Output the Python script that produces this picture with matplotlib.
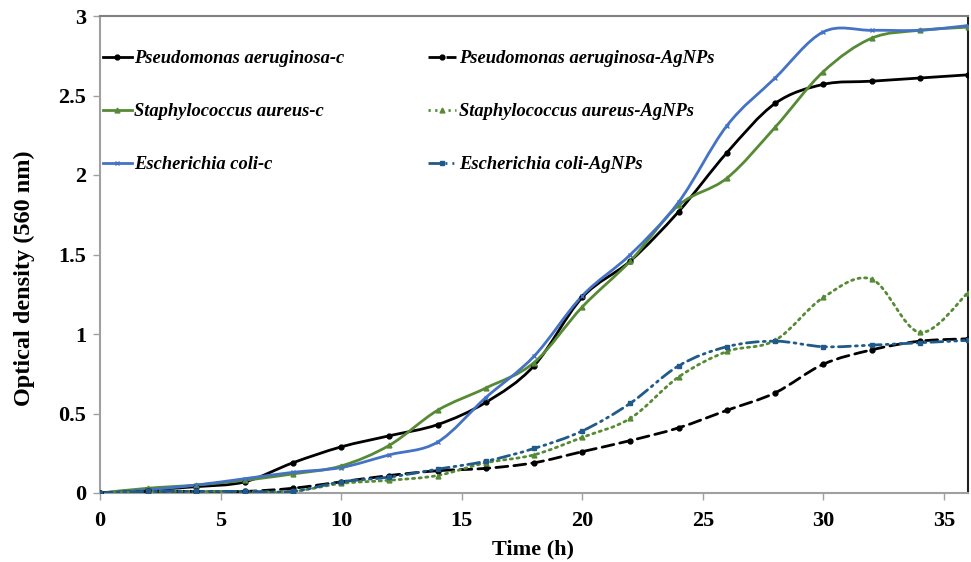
import numpy as np
import matplotlib
matplotlib.use("Agg")
import matplotlib.pyplot as plt
from matplotlib.path import Path
from matplotlib.patches import PathPatch
from matplotlib.lines import Line2D

time_h = [0, 2, 4, 6, 8, 10, 12, 14, 16, 18, 20, 22, 24, 26, 28, 30, 32, 34, 36]

pa_c = [0.0, 0.02, 0.04, 0.07, 0.19, 0.29, 0.36, 0.43, 0.57, 0.80, 1.23, 1.46, 1.77, 2.14, 2.45, 2.57, 2.59, 2.61, 2.63]
sa_c = [0.0, 0.03, 0.05, 0.08, 0.12, 0.17, 0.30, 0.52, 0.66, 0.82, 1.17, 1.46, 1.81, 1.98, 2.30, 2.65, 2.86, 2.91, 2.93]
ec_c = [0.0, 0.02, 0.05, 0.09, 0.13, 0.16, 0.24, 0.32, 0.60, 0.86, 1.24, 1.50, 1.83, 2.31, 2.61, 2.90, 2.91, 2.91, 2.94]
pa_ag = [0.0, 0.01, 0.01, 0.01, 0.03, 0.07, 0.11, 0.14, 0.155, 0.19, 0.26, 0.33, 0.41, 0.52, 0.63, 0.81, 0.90, 0.955, 0.97]
sa_ag = [0.0, 0.01, 0.01, 0.01, 0.01, 0.06, 0.08, 0.11, 0.19, 0.24, 0.35, 0.47, 0.73, 0.89, 0.96, 1.23, 1.345, 1.01, 1.26]
ec_ag = [0.0, 0.01, 0.01, 0.01, 0.01, 0.07, 0.10, 0.15, 0.20, 0.28, 0.39, 0.565, 0.80, 0.92, 0.955, 0.92, 0.93, 0.945, 0.96]

labels = ["Pseudomonas aeruginosa-c", "Staphylococcus aureus-c", "Escherichia coli-c",
          "Pseudomonas aeruginosa-AgNPs", "Staphylococcus aureus-AgNPs", "Escherichia coli-AgNPs"]

x_ticks = [0, 5, 10, 15, 20, 25, 30, 35]
y_ticks = [0, 0.5, 1, 1.5, 2, 2.5, 3]
y_tick_labels = ["0", "0.5", "1", "1.5", "2", "2.5", "3"]

GREEN = "#568a35"
BLUE = "#4472c4"
DBLUE = "#1f5a8a"

styles = [
    dict(color="black", ls="-", marker="o", ms=3.5),
    dict(color=GREEN, ls="-", marker="^", ms=3.5),
    dict(color=BLUE, ls="-", marker="x", ms=3.5),
    dict(color="black", ls=(0, (4.3, 2.2)), marker="o", ms=3.5),
    dict(color=GREEN, ls=(0, (0.8, 1.6)), marker="^", ms=3.5),
    dict(color=DBLUE, ls=(0, (4.3, 1.8, 0.7, 1.8, 0.7, 1.8)), marker="s", ms=3.5),
]
series = [pa_c, sa_c, ec_c, pa_ag, sa_ag, ec_ag]


def smooth_path(x, y):
    p = np.column_stack([x, y]).astype(float)
    n = len(p)
    verts = [p[0]]
    codes = [Path.MOVETO]
    for i in range(n - 1):
        p0 = p[i - 1] if i > 0 else p[i]
        p1 = p[i]
        p2 = p[i + 1]
        p3 = p[i + 2] if i + 2 < n else p[i + 1]
        c1 = p1 + (p2 - p0) / 6.0
        c2 = p2 - (p3 - p1) / 6.0
        verts += [c1, c2, p2]
        codes += [Path.CURVE4] * 3
    return Path(verts, codes)


plt.rcParams['font.family'] = ['Liberation Serif', 'DejaVu Serif']

fig = plt.figure(figsize=(9.71, 5.62), dpi=100)
ax = fig.add_axes([100 / 971, 1 - 493 / 562, 868 / 971, 477 / 562])

lw = 2.0
handles = []
for vals, st, lab in zip(series, styles, labels):
    patch = PathPatch(smooth_path(time_h, vals), fill=False, edgecolor=st["color"],
                      linestyle=st["ls"], lw=lw, capstyle="round", zorder=3)
    ax.add_patch(patch)
    mk = st["marker"]
    ax.plot(time_h, vals, linestyle="none", marker=mk, ms=st["ms"],
            color=st["color"], mec=st["color"], mew=1.0, zorder=4)
    handles.append(Line2D([], [], color=st["color"], linestyle=st["ls"], lw=lw,
                          marker=mk, ms=st["ms"], mew=1.0))

ax.set_xlim(0, 36)
ax.set_ylim(0, 3)
ax.set_xticks(x_ticks)
ax.set_yticks(y_ticks)
ax.set_yticklabels(y_tick_labels)

for lab in ax.get_xticklabels() + ax.get_yticklabels():
    lab.set_fontweight("bold")
    lab.set_fontsize(16)

ax.tick_params(axis="both", direction="out", length=5, width=1, color="#a0a0a0")
ax.tick_params(axis="x", pad=8)
ax.tick_params(axis="y", pad=5)

ax.spines["left"].set_color("#a0a0a0")
ax.spines["bottom"].set_color("#a0a0a0")
ax.spines["top"].set_color("#808080")
ax.spines["right"].set_color("#202020")
for s in ax.spines.values():
    s.set_linewidth(1.5)

fig.text(533 / 971, 1 - 549 / 562, "Time (h)", fontsize=16, fontweight="bold",
         ha="center", va="center")
fig.text(24 / 971, 1 - 278 / 562, "Optical density (560 nm)", fontsize=17.5,
         fontweight="bold", ha="center", va="center", rotation=90)

leg = ax.legend(handles, labels, ncol=2, loc="upper left", frameon=False,
                bbox_to_anchor=(3 / 868, (493 - 50) / 477), borderaxespad=0, borderpad=0,
                handlelength=1.55, handletextpad=0.15,
                columnspacing=4.5, labelspacing=1.95,
                prop=dict(family="Liberation Serif", weight="bold", style="italic", size=13.3))

fig.savefig("out.png", dpi=100)
